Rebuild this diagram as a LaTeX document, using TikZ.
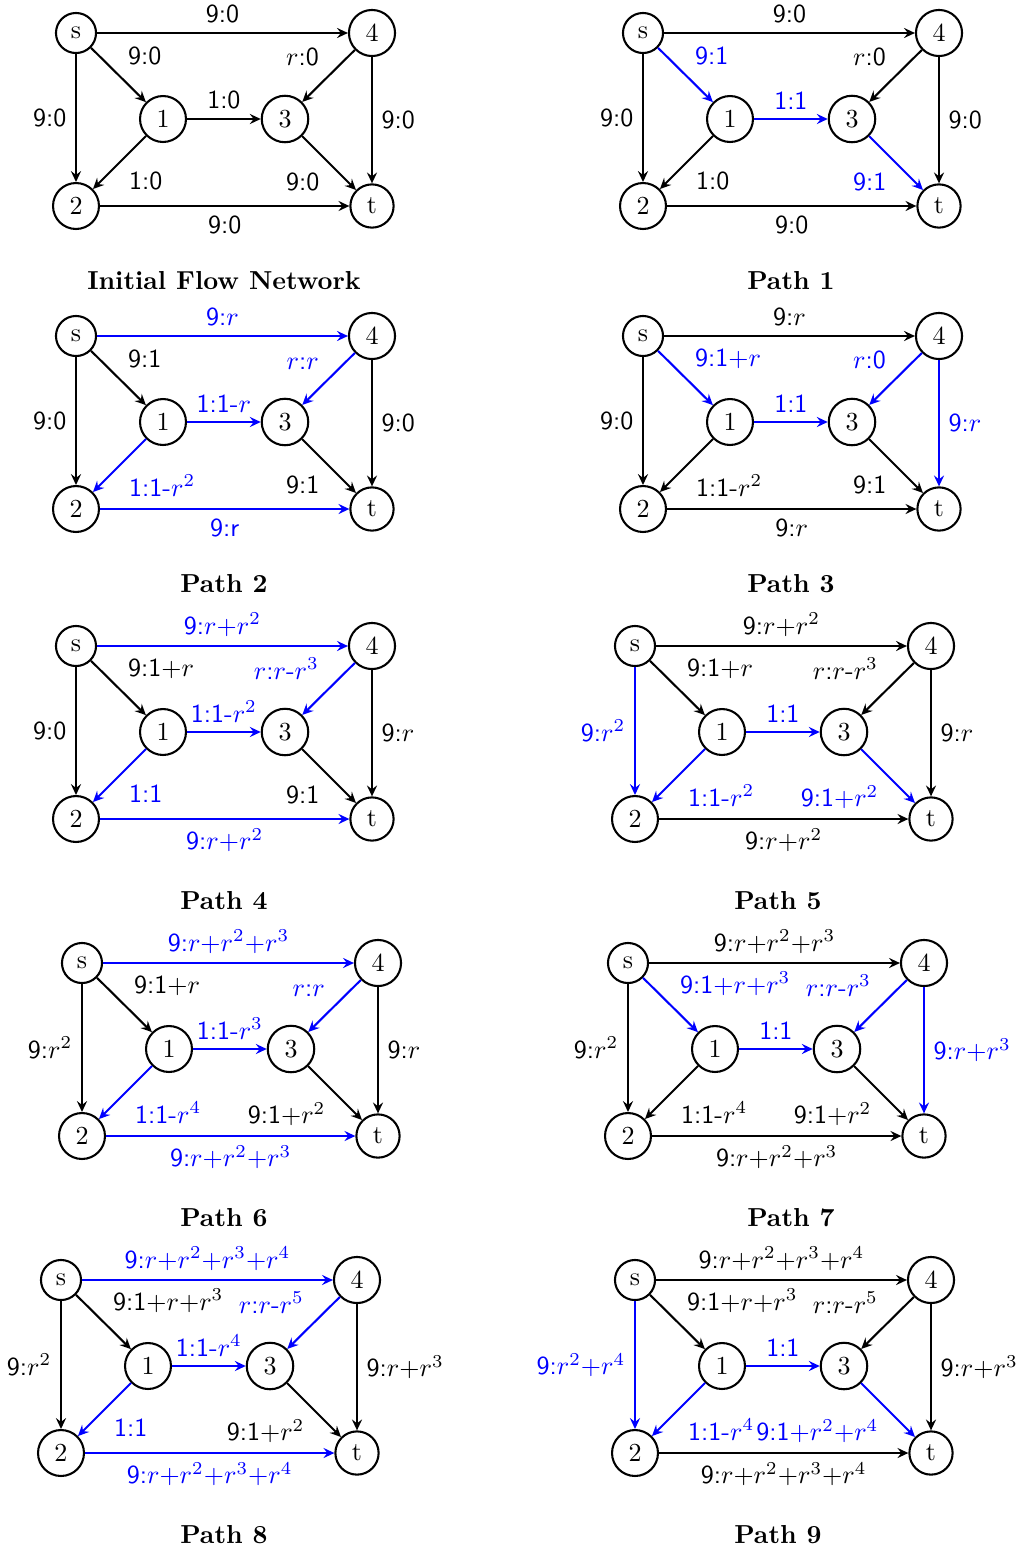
\documentclass[tikz,border=0pt]{standalone}
\usetikzlibrary{arrows.meta}
\definecolor{hl}{RGB}{0,0,255}
\tikzset{
  vtx/.style={circle, draw, thick},
  flow/.style={thick, -{Stealth[length=4.2pt,width=3.9pt,inset=1.5pt]},
               nodes={font=\sffamily}},
  aug/.style={flow, color=hl},
  caption/.style={font=\bfseries},
}
% the six vertices of one network, relative to the source
\newcommand\netnodes{%
  \node[vtx] (s) at (0,0)     {s};
  \node[vtx] (4) at (296,0)   {4};
  \node[vtx] (1) at (87,86)   {1};
  \node[vtx] (3) at (209,86)  {3};
  \node[vtx] (2) at (0,173)   {2};
  \node[vtx] (t) at (296,173) {t};
}
\begin{document}
\begin{tikzpicture}[x=0.3846pt, y=-0.3846pt]
\useasboundingbox (0,0) rectangle (1018,1550);

% ---------------- initial network
\begin{scope}[shift={(76,33)}, name prefix=p0-]
  \netnodes
  \draw[flow] (s) -- node[above]{9:0} (4);
  \draw[flow] (s) -- node[above right]{9:0} (1);
  \draw[flow] (4) -- node[above left]{$r$:0} (3);
  \draw[flow] (s) -- node[left]{9:0} (2);
  \draw[flow] (1) -- node[above]{1:0} (3);
  \draw[flow] (4) -- node[right]{9:0} (t);
  \draw[flow] (1) -- node[below right]{1:0} (2);
  \draw[flow] (3) -- node[below left]{9:0} (t);
  \draw[flow] (2) -- node[below]{9:0} (t);
\end{scope}
\node[caption] (cap0) at (224,281) {Initial Flow Network};

% ---------------- path 1
\begin{scope}[shift={(643,33)}, name prefix=p1-]
  \netnodes
  \draw[flow] (s) -- node[above]{9:0} (4);
  \draw[aug]  (s) -- node[above right]{9:1} (1);
  \draw[flow] (4) -- node[above left]{$r$:0} (3);
  \draw[flow] (s) -- node[left]{9:0} (2);
  \draw[aug]  (1) -- node[above]{1:1} (3);
  \draw[flow] (4) -- node[right]{9:0} (t);
  \draw[flow] (1) -- node[below right]{1:0} (2);
  \draw[aug]  (3) -- node[below left]{9:1} (t);
  \draw[flow] (2) -- node[below]{9:0} (t);
\end{scope}
\node[caption] (cap1) at (791,281) {Path 1};

% ---------------- path 2
\begin{scope}[shift={(76,336)}, name prefix=p2-]
  \netnodes
  \draw[aug]  (s) -- node[above]{9:$r$} (4);
  \draw[flow] (s) -- node[above right]{9:1} (1);
  \draw[aug]  (4) -- node[above left]{$r$:$r$} (3);
  \draw[flow] (s) -- node[left]{9:0} (2);
  \draw[aug]  (1) -- node[above]{1:1-$r$} (3);
  \draw[flow] (4) -- node[right]{9:0} (t);
  \draw[aug]  (1) -- node[below right]{1:1-$r^2$} (2);
  \draw[flow] (3) -- node[below left]{9:1} (t);
  \draw[aug]  (2) -- node[below]{9:r} (t);
\end{scope}
\node[caption] (cap2) at (224,584) {Path 2};

% ---------------- path 3
\begin{scope}[shift={(643,336)}, name prefix=p3-]
  \netnodes
  \draw[flow] (s) -- node[above]{9:$r$} (4);
  \draw[aug]  (s) -- node[above right]{9:1$+r$} (1);
  \draw[aug]  (4) -- node[above left]{$r$:0} (3);
  \draw[flow] (s) -- node[left]{9:0} (2);
  \draw[aug]  (1) -- node[above]{1:1} (3);
  \draw[aug]  (4) -- node[right]{9:$r$} (t);
  \draw[flow] (1) -- node[below right]{1:1-$r^2$} (2);
  \draw[flow] (3) -- node[below left]{9:1} (t);
  \draw[flow] (2) -- node[below]{9:$r$} (t);
\end{scope}
\node[caption] (cap3) at (791,584) {Path 3};

% ---------------- path 4
\begin{scope}[shift={(76,646)}, name prefix=p4-]
  \netnodes
  \draw[aug]  (s) -- node[above]{9:$r{+}r^2$} (4);
  \draw[flow] (s) -- node[above right]{9:1$+r$} (1);
  \draw[aug]  (4) -- node[above left]{$r$:$r$-$r^3$} (3);
  \draw[flow] (s) -- node[left]{9:0} (2);
  \draw[aug]  (1) -- node[above]{1:1-$r^2$} (3);
  \draw[flow] (4) -- node[right]{9:$r$} (t);
  \draw[aug]  (1) -- node[below right]{1:1} (2);
  \draw[flow] (3) -- node[below left]{9:1} (t);
  \draw[aug]  (2) -- node[below]{9:$r{+}r^2$} (t);
\end{scope}
\node[caption] (cap4) at (224,901) {Path 4};

% ---------------- path 5
\begin{scope}[shift={(635,646)}, name prefix=p5-]
  \netnodes
  \draw[flow] (s) -- node[above]{9:$r{+}r^2$} (4);
  \draw[flow] (s) -- node[above right]{9:1$+r$} (1);
  \draw[flow] (4) -- node[above left]{$r$:$r$-$r^3$} (3);
  \draw[aug]  (s) -- node[left]{9:$r^2$} (2);
  \draw[aug]  (1) -- node[above]{1:1} (3);
  \draw[flow] (4) -- node[right]{9:$r$} (t);
  \draw[aug]  (1) -- node[below right]{1:1-$r^2$} (2);
  \draw[aug]  (3) -- node[below left]{9:1$+r^2$} (t);
  \draw[flow] (2) -- node[below]{9:$r{+}r^2$} (t);
\end{scope}
\node[caption] (cap5) at (778,901) {Path 5};

% ---------------- path 6
\begin{scope}[shift={(82,963)}, name prefix=p6-]
  \netnodes
  \draw[aug]  (s) -- node[above]{9:$r{+}r^2{+}r^3$} (4);
  \draw[flow] (s) -- node[above right]{9:1$+r$} (1);
  \draw[aug]  (4) -- node[above left]{$r$:$r$} (3);
  \draw[flow] (s) -- node[left]{9:$r^2$} (2);
  \draw[aug]  (1) -- node[above]{1:1-$r^3$} (3);
  \draw[flow] (4) -- node[right]{9:$r$} (t);
  \draw[aug]  (1) -- node[below right]{1:1-$r^4$} (2);
  \draw[flow] (3) -- node[below left]{9:1$+r^2$} (t);
  \draw[aug]  (2) -- node[below]{9:$r{+}r^2{+}r^3$} (t);
\end{scope}
\node[caption] (cap6) at (224,1218) {Path 6};

% ---------------- path 7
\begin{scope}[shift={(628,963)}, name prefix=p7-]
  \netnodes
  \draw[flow] (s) -- node[above]{9:$r{+}r^2{+}r^3$} (4);
  \draw[aug]  (s) -- node[above right]{9:1$+r{+}r^3$} (1);
  \draw[aug]  (4) -- node[above left]{$r$:$r$-$r^3$} (3);
  \draw[flow] (s) -- node[left]{9:$r^2$} (2);
  \draw[aug]  (1) -- node[above]{1:1} (3);
  \draw[aug]  (4) -- node[right]{9:$r{+}r^3$} (t);
  \draw[flow] (1) -- node[below right]{1:1-$r^4$} (2);
  \draw[flow] (3) -- node[below left]{9:1$+r^2$} (t);
  \draw[flow] (2) -- node[below]{9:$r{+}r^2{+}r^3$} (t);
\end{scope}
\node[caption] (cap7) at (791,1218) {Path 7};

% ---------------- path 8
\begin{scope}[shift={(61,1280)}, name prefix=p8-]
  \netnodes
  \draw[aug]  (s) -- node[above]{9:$r{+}r^2{+}r^3{+}r^4$} (4);
  \draw[flow] (s) -- node[above right]{9:1$+r{+}r^3$} (1);
  \draw[aug]  (4) -- node[above left]{$r$:$r$-$r^5$} (3);
  \draw[flow] (s) -- node[left]{9:$r^2$} (2);
  \draw[aug]  (1) -- node[above]{1:1-$r^4$} (3);
  \draw[flow] (4) -- node[right]{9:$r{+}r^3$} (t);
  \draw[aug]  (1) -- node[below right]{1:1} (2);
  \draw[flow] (3) -- node[below left]{9:1$+r^2$} (t);
  \draw[aug]  (2) -- node[below]{9:$r{+}r^2{+}r^3{+}r^4$} (t);
\end{scope}
\node[caption] (cap8) at (224,1535) {Path 8};

% ---------------- path 9
\begin{scope}[shift={(635,1280)}, name prefix=p9-]
  \netnodes
  \draw[flow] (s) -- node[above]{9:$r{+}r^2{+}r^3{+}r^4$} (4);
  \draw[flow] (s) -- node[above right]{9:1$+r{+}r^3$} (1);
  \draw[flow] (4) -- node[above left]{$r$:$r$-$r^5$} (3);
  \draw[aug]  (s) -- node[left]{9:$r^2{+}r^4$} (2);
  \draw[aug]  (1) -- node[above]{1:1} (3);
  \draw[flow] (4) -- node[right]{9:$r{+}r^3$} (t);
  \draw[aug]  (1) -- node[below right]{1:1-$r^4$} (2);
  \draw[aug]  (3) -- node[below left]{9:1$+r^2{+}r^4$} (t);
  \draw[flow] (2) -- node[below]{9:$r{+}r^2{+}r^3{+}r^4$} (t);
\end{scope}
\node[caption] (cap9) at (778,1535) {Path 9};
\end{tikzpicture}
\end{document}
